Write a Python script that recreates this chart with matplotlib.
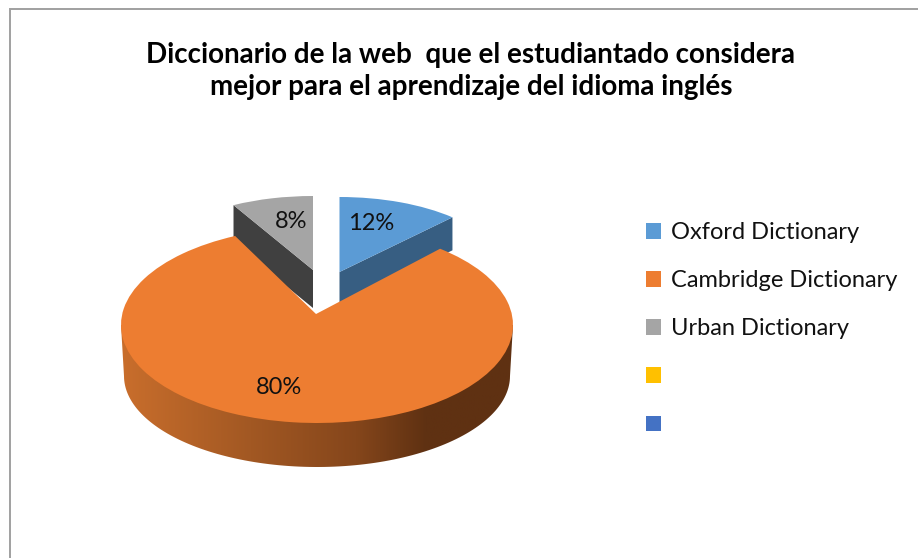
import numpy as np
import matplotlib
matplotlib.use('Agg')
import matplotlib.pyplot as plt
from matplotlib.colors import LinearSegmentedColormap
from matplotlib.patches import Patch, Polygon
from matplotlib.transforms import Affine2D

plt.rcParams['font.family'] = ['Lato', 'DejaVu Sans']

titulo = 'Diccionario de la web  que el estudiantado considera\nmejor para el aprendizaje del idioma inglés'
categorias = ['Oxford Dictionary', 'Cambridge Dictionary', 'Urban Dictionary', '', '']
valores = [12, 80, 8]
colores = ['#5b9bd5', '#ed7d31', '#a5a5a5', '#ffc000', '#4472c4']

fig = plt.figure(figsize=(9.18, 5.58), dpi=100)
ax = fig.add_axes([0, 0, 1, 1])

# on dessine en pixels, chaque part recoit ensuite sa propre ellipse
wedges, _ = ax.pie(valores, colors=colores[:3], startangle=90, counterclock=False,
                   wedgeprops={'linewidth': 0})
azul, naranja, gris = wedges


def ellipse(w, cx, cy, a, b, z):
    w.set_transform(Affine2D().scale(a, -b).translate(cx, cy) + ax.transData)
    w.set_zorder(z)


def borde(theta, cx, cy, a, b):
    t = np.radians(theta)
    return cx + a * np.cos(t), cy - b * np.sin(t)


def cara(theta, cx, cy, a, b, prof, color, z):
    px, py = borde(theta, cx, cy, a, b)
    ax.add_patch(Polygon([(cx, cy), (px, py), (px, py + prof), (cx, cy + prof)],
                         closed=True, facecolor=color, edgecolor='none', zorder=z))


# parts sorties
ellipse(azul, 339.5, 272, 165, 75, 3)
cara(azul.theta1, 339.5, 272, 165, 75, 33, '#375e82', 2)
ellipse(gris, 313, 270, 165, 74, 3)
cara(gris.theta2, 313, 270, 165, 74, 38, '#404040', 2)

# part orange : perspective, le sommet remonte et l'arc s'allonge
naranja.set_theta1(naranja.theta1 - 4.1)
naranja.set_theta2(naranja.theta2 + 4.3)
ellipse(naranja, 317, 325, 196, 98, 6)
v = naranja.get_path().vertices
v[np.all(np.abs(v) < 1e-9, axis=1)] = (-0.005, 0.112)

# tranche orange avec degrade
t = np.radians(np.linspace(180, 360, 120))
bord = np.column_stack([317 + 193 * np.cos(t), 376 - 91 * np.sin(t)])
tranche = Polygon(np.vstack([[(121, 325)], bord, [(513, 325)]]), closed=True,
                  facecolor='none', edgecolor='none', transform=ax.transData)
ax.add_patch(tranche)
cmap = LinearSegmentedColormap.from_list('tranche', [(0, '#c96e2c'), (0.33, '#a25823'),
                                                     (0.6, '#85461b'), (0.78, '#5f3112'), (1, '#5f3112')])
im = ax.imshow(np.linspace(0, 1, 256)[None, :], cmap=cmap, extent=(121, 513, 470, 320),
               aspect='auto', zorder=5)
im.set_clip_path(tranche)

ax.text(371, 224, f'{valores[0]}%', fontsize=17, ha='center', va='center', color='#111111', zorder=8)
ax.text(279, 387, f'{valores[1]}%', fontsize=17, ha='center', va='center', color='#111111', zorder=8)
ax.text(291, 221, f'{valores[2]}%', fontsize=17, ha='center', va='center', color='#111111', zorder=8)

ax.text(471, 71, titulo, fontsize=20, fontweight='bold', ha='center', va='center',
        linespacing=1.25, color='black')

ax.legend([Patch(facecolor=c, edgecolor='none') for c in colores], categorias,
          loc='upper left', bbox_to_anchor=(646 / 918, 1 - 222 / 558), frameon=False,
          fontsize=17, handlelength=0.64, handleheight=0.64, handletextpad=0.42,
          labelspacing=1.15, borderpad=0, borderaxespad=0, labelcolor='#111111')

# cadre gris, coupe a droite et en bas
ax.plot([10, 10, 918], [558, 9, 9], color='#a0a0a0', linewidth=1.4, solid_joinstyle='miter')

ax.set_xlim(0, 918)
ax.set_ylim(558, 0)
ax.set_aspect('auto')
ax.axis('off')

fig.savefig('out.png', dpi=100, facecolor='white')
